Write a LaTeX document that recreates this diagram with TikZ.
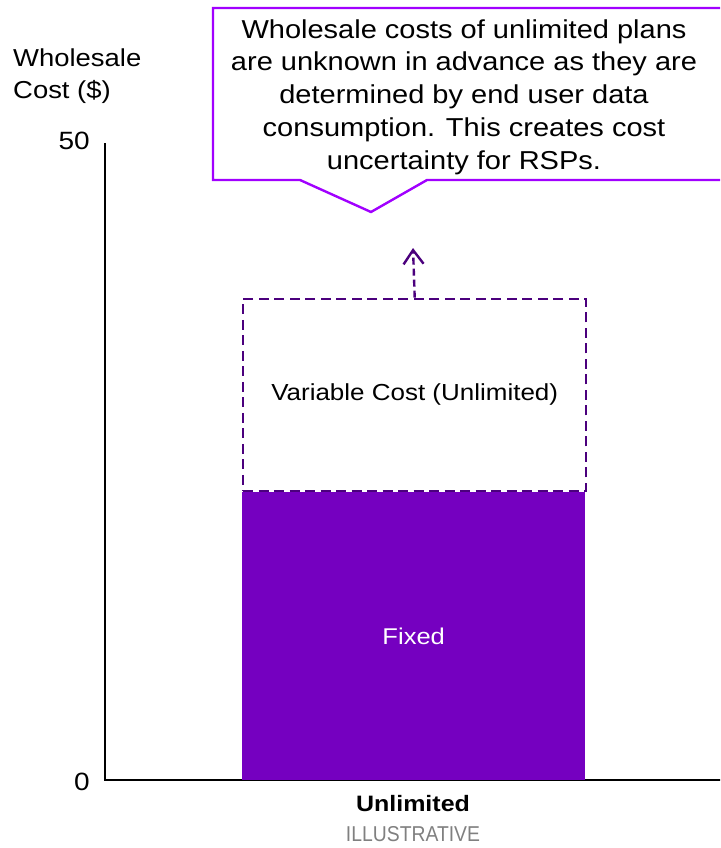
\documentclass[tikz,border=0pt]{standalone}
\usepackage{fontspec}
\setmainfont[FakeStretch=1.12]{Liberation Sans}
\newfontfamily\condfont[FakeStretch=0.9]{Liberation Sans}
\usetikzlibrary{positioning}
\usetikzlibrary{arrows.meta}
\definecolor{fx}{RGB}{117,0,192}
\definecolor{vr}{RGB}{75,0,125}
\definecolor{co}{RGB}{161,0,255}
\definecolor{gy}{RGB}{128,128,128}

\begin{document}
\begin{tikzpicture}[
    x=1pt, y=-1pt,
    ax/.style={
        line width=1.6pt, color=black
    },
    t/.style={
        font=\fontsize{22.8}{27}\selectfont, inner sep=0pt
    },
    f/.style={
        fill=fx, draw=none, minimum width=343pt, minimum height=288pt,
        inner sep=0pt, anchor=north west
    },
    v/.style={
        draw=vr, line width=2.4pt, dash pattern=on 10pt off 5.5pt,
        minimum width=343pt, minimum height=192pt,
        inner sep=0pt, anchor=south west
    },
    c/.style={
        draw=co, line width=2.4pt, fill=white
    }
]
    \useasboundingbox (0,0) rectangle (720,848);
    \clip (0,0) rectangle (720,848);

    % axes
    \coordinate (o) at (105,780);
    \draw [ax] (105,143) -- (o) -- (722,780);
    \node [t, anchor=east, font=\fontsize{25}{27}\selectfont] (ymax) at (90,141) {50};
    \node [t, anchor=east, font=\fontsize{25}{27}\selectfont] (ymin) at (90,782) {0};
    \node [t, align=left, anchor=west, font=\fontsize{24.5}{32}\selectfont] (yl) at (13,76) {Wholesale\\Cost (\$)};

    % bars
    \node [f] (fix) at (242,492) {};
    \node [v] (var) at (242,492) {};
    \node [t, text=white] at (fix.center) {Fixed};
    \node [t, font=\fontsize{23.2}{27}\selectfont] at (var.center) {Variable Cost (Unlimited)};
    \coordinate (up) at (413,248);
    \draw [vr, line width=2.4pt, dash pattern=on 7pt off 4pt,
        -{Straight Barb[length=14pt,width=20pt,line width=2.4pt]}] (var.north) -- (up);

    % category labels
    \node [t, font=\bfseries\fontsize{22.3}{27}\selectfont] (cat) at (413,804) {Unlimited};
    \node [t, text=gy, font=\condfont\fontsize{21.5}{25}\selectfont] (note) at (413,834) {ILLUSTRATIVE};

    % callout
    \draw [c] (213,8) -- (740,8) -- (740,180) -- (427,180) -- (371,212)
        -- (300,180) -- (213,180) -- cycle;
    \node [t, align=center, font=\fontsize{25.9}{32.7}\selectfont] (msg) at (464,97)
        {Wholesale costs of unlimited plans\\are unknown in advance as they are\\determined by end user data\\consumption. This creates cost\\uncertainty for RSPs.};
\end{tikzpicture}
\end{document}
